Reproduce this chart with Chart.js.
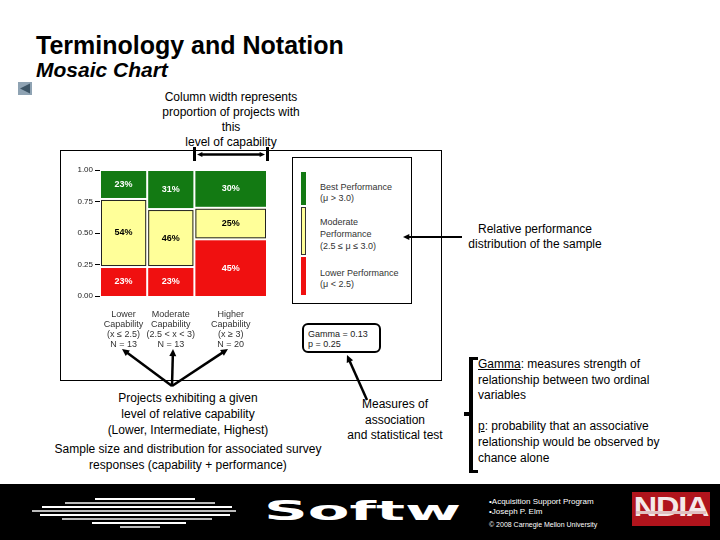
<!DOCTYPE html>
<html>
<head>
<meta charset="utf-8">
<script src="https://cdn.jsdelivr.net/npm/chart.js@4.4.0/dist/chart.umd.min.js"></script>
<style>
  body { margin:0; width:720px; height:540px; background:#fff; position:relative; overflow:hidden;
         font-family:"Liberation Sans", Arial, sans-serif; color:#000; }
  .t { position:absolute; white-space:nowrap; }
  .c { text-align:center; }
  #mosaic { position:absolute; left:60px; top:150px; }
  #deco { position:absolute; left:0; top:0; pointer-events:none; }
  .box { position:absolute; border:1px solid #000; }
  .footer { position:absolute; left:0; top:484px; width:720px; height:56px; background:#000; }
  .legbar { position:absolute; left:301px; width:5px; }
</style>
</head>
<body>
<div class="t" style="left:36px;top:33px;font-size:25px;font-weight:bold;line-height:25px">Terminology and Notation</div>
<div class="t" style="left:36px;top:59px;font-size:21px;font-weight:bold;font-style:italic;line-height:21px">Mosaic Chart</div>

<div class="t c" style="left:131px;width:200px;top:90px;font-size:12px;line-height:15px">Column width represents<br>proportion of projects with<br>this<br>level of capability</div>

<div class="box" style="left:60px;top:150px;width:380px;height:229px"></div>
<div class="box" style="left:292px;top:157px;width:118px;height:145px"></div>

<canvas id="mosaic" width="232" height="210"></canvas>

<div id="legend"></div>

<div class="t c" style="left:435px;width:200px;top:222px;font-size:12px;line-height:15px">Relative performance<br>distribution of the sample</div>

<div id="stats" class="t" style="left:308px;top:329px;font-size:9px;line-height:10px;color:#222"></div>

<div class="t c" style="left:38px;width:300px;top:390px;font-size:12px;line-height:16px">Projects exhibiting a given<br>level of relative capability<br>(Lower, Intermediate, Highest)</div>
<div class="t c" style="left:18px;width:340px;top:441px;font-size:12px;line-height:16px">Sample size and distribution for associated survey<br>responses (capability + performance)</div>

<div class="t c" style="left:325px;width:140px;top:397px;font-size:12px;line-height:15.5px">Measures of<br>association<br>and statistical test</div>

<div class="t" style="left:478px;top:357px;font-size:12px;line-height:15.6px"><u>Gamma</u>: measures strength of<br>relationship between two ordinal<br>variables<br><br><u>p</u>: probability that an associative<br>relationship would be observed by<br>chance alone</div>

<div class="footer"></div>
<div class="t" style="left:264px;top:497px;font-size:27px;font-weight:900;color:#fff;line-height:28px;font-family:'DejaVu Sans';transform:scaleX(2.25);transform-origin:left top">Softw</div>
<div class="t" style="left:489px;top:497px;font-size:8px;line-height:10px;color:#fff">•Acquisition Support Program<br>•Joseph P. Elm</div>
<div class="t" style="left:489px;top:521px;font-size:7px;line-height:8px;color:#fff">© 2008 Carnegie Mellon University</div>
<div class="t" style="left:632px;top:492px;width:78px;height:34px;background:#b0141c;"></div>
<div class="t c" style="left:632px;top:492px;width:78px;font-size:27px;font-weight:bold;line-height:30px;color:#f4e8e8;letter-spacing:-1px;transform:scaleX(1.2);transform-origin:center top">NDIA</div>
<div class="t" style="left:636px;top:511px;width:70px;height:3px;background:#e0c0c0"></div>

<canvas id="deco" width="720" height="540"></canvas>

<script>
// capability groups (columns)
const capNames = ['Lower', 'Moderate', 'Higher'];
const capRanges = ['(x \u2264 2.5)', '(2.5 < x < 3)', '(x \u2265 3)'];
const capN = [13, 13, 20];

// performance shares in % per column, stacked bottom to top
const lowerPct = [23, 23, 45];
const moderatePct = [54, 46, 25];
const bestPct = [23, 31, 30];

const perfNames = ['Lower Performance', 'Moderate Performance', 'Best Performance'];
const perfRanges = ['(\u03bc < 2.5)', '(2.5 \u2264 \u03bc \u2264 3.0)', '(\u03bc > 3.0)'];
const perfColors = ['#f01010', '#ffff99', '#137a13'];
const perfTextColors = ['#fff', '#000', '#fff'];

const gamma = 0.13;
const pValue = 0.25;

const yTicks = [0, 0.25, 0.5, 0.75, 1];

const segments = [lowerPct, moderatePct, bestPct];
const totalN = capN.reduce((a, b) => a + b, 0);
const centers = [];
let acc = 0;
capN.forEach(n => { centers.push(acc + n / 2); acc += n; });

const capLabels = capNames.map((name, i) => [name, 'Capability', capRanges[i], 'N = ' + capN[i]]);

Chart.defaults.font.family = '"Liberation Sans", Arial, sans-serif';

const mosaicPlugin = {
  id: 'mosaic',
  afterDatasetsDraw(chart) {
    const ctx = chart.ctx;
    const x = chart.scales.x, y = chart.scales.y;
    let x0 = 0;
    capN.forEach((n, i) => {
      const left = x.getPixelForValue(x0) + 1;
      const right = x.getPixelForValue(x0 + n) - 1;
      let y0 = 0;
      segments.forEach((seg, k) => {
        const v = seg[i] / 100;
        const bottom = y.getPixelForValue(y0) - (y0 > 0 ? 1 : 0);
        const top = y.getPixelForValue(Math.min(1, y0 + v)) + 1;
        ctx.save();
        ctx.fillStyle = perfColors[k];
        ctx.fillRect(left, top, right - left, bottom - top);
        if (k == 1) {
          ctx.strokeStyle = '#222';
          ctx.lineWidth = 1;
          ctx.strokeRect(left + 0.5, top + 0.5, right - left - 1, bottom - top - 1);
        }
        ctx.fillStyle = perfTextColors[k];
        ctx.font = 'bold 9px "Liberation Sans", Arial, sans-serif';
        ctx.textAlign = 'center';
        ctx.textBaseline = 'middle';
        ctx.fillText(seg[i] + '%', (left + right) / 2, (top + bottom) / 2);
        ctx.restore();
        y0 += v;
      });
      x0 += n;
    });
  }
};

new Chart(document.getElementById('mosaic'), {
  type: 'scatter',
  data: {
    datasets: perfNames.map((name, k) => ({ label: name, data: [], backgroundColor: perfColors[k] }))
  },
  options: {
    responsive: false,
    animation: false,
    layout: { padding: { top: 20, right: 25, left: 0, bottom: 0 } },
    plugins: { legend: { display: false }, tooltip: { enabled: false } },
    scales: {
      x: {
        type: 'linear', min: 0, max: totalN,
        grid: { display: false, drawTicks: false },
        border: { display: false },
        afterBuildTicks: s => { s.ticks = centers.map(v => ({ value: v })); },
        afterFit: s => { s.height = 64; },
        ticks: {
          autoSkip: false, maxRotation: 0, padding: 14, color: '#333',
          font: { size: 9, lineHeight: 1.1 },
          callback: (v, i) => capLabels[i]
        }
      },
      y: {
        type: 'linear', min: 0, max: 1,
        afterBuildTicks: s => { s.ticks = yTicks.map(v => ({ value: v })); },
        afterFit: s => { s.width = 40; },
        grid: { drawOnChartArea: false, tickLength: 5, color: '#000' },
        border: { display: false },
        ticks: { padding: 2, color: '#222', font: { size: 8 }, callback: v => v.toFixed(2) }
      }
    }
  },
  plugins: [mosaicPlugin]
});

// legend: vertical colour bars with labels, top to bottom = best to lower
const legend = document.getElementById('legend');
const barSpans = [[257, 295], [207, 255], [172, 205]];
const textTops = [[268, 11], [216, 12], [182, 11]];
const textLines = [
  [perfNames[0], perfRanges[0]],
  ['Moderate', 'Performance', perfRanges[1]],
  [perfNames[2], perfRanges[2]]
];
perfNames.forEach((name, k) => {
  const bar = document.createElement('div');
  bar.className = 'legbar';
  bar.style.top = barSpans[k][0] + 'px';
  bar.style.height = (barSpans[k][1] - barSpans[k][0]) + 'px';
  bar.style.background = perfColors[k];
  if (k == 1) { bar.style.boxShadow = 'inset 0 0 0 1px #333'; }
  legend.appendChild(bar);
  const txt = document.createElement('div');
  txt.className = 't';
  txt.style.left = '320px';
  txt.style.top = textTops[k][0] + 'px';
  txt.style.fontSize = '9px';
  txt.style.lineHeight = textTops[k][1] + 'px';
  txt.style.color = '#333';
  txt.innerHTML = textLines[k].join('<br>');
  legend.appendChild(txt);
});

document.getElementById('stats').innerHTML = 'Gamma = ' + gamma.toFixed(2) + '<br>p = ' + pValue.toFixed(2);

// annotations: arrows, brackets, boxes, footer graphic
const dc = document.getElementById('deco').getContext('2d');

function arrow(x1, y1, x2, y2, w, head) {
  const a = Math.atan2(y2 - y1, x2 - x1);
  dc.strokeStyle = '#000';
  dc.fillStyle = '#000';
  dc.lineWidth = w;
  dc.beginPath();
  dc.moveTo(x1, y1);
  dc.lineTo(x2 - Math.cos(a) * head * 0.6, y2 - Math.sin(a) * head * 0.6);
  dc.stroke();
  dc.beginPath();
  dc.moveTo(x2, y2);
  dc.lineTo(x2 - head * Math.cos(a - 0.45), y2 - head * Math.sin(a - 0.45));
  dc.lineTo(x2 - head * Math.cos(a + 0.45), y2 - head * Math.sin(a + 0.45));
  dc.closePath();
  dc.fill();
}

// column width bracket above the chart
dc.fillStyle = '#000';
dc.fillRect(193, 147, 3, 14);
dc.fillRect(266, 147, 3, 14);
arrow(230, 154.5, 197, 154.5, 2.5, 6);
arrow(230, 154.5, 265, 154.5, 2.5, 6);

// pointer to legend
arrow(462, 237, 403, 237, 2, 7);

// pointers to capability labels
arrow(172, 386, 122, 349, 2.5, 8);
arrow(172, 386, 173, 349, 2.5, 8);
arrow(172, 386, 228, 349, 2.5, 8);

// gamma box
dc.lineWidth = 2;
dc.strokeStyle = '#000';
dc.beginPath();
dc.roundRect(303, 324, 77, 28, 5);
dc.stroke();
arrow(367, 400, 347, 355, 2.5, 8);

// big bracket for definitions
dc.fillRect(469, 357, 4, 116);
dc.fillRect(469, 357, 9, 3);
dc.fillRect(469, 470, 9, 3);
dc.fillRect(464, 412, 7, 4);

// back icon
dc.fillStyle = '#8fa3b3';
dc.fillRect(18, 82, 14, 13);
dc.fillStyle = '#3d5566';
dc.beginPath();
dc.moveTo(20, 88.5); dc.lineTo(30, 83.5); dc.lineTo(30, 93.5); dc.closePath();
dc.fill();

// footer stripes graphic
const stripes = [[498, 95, 195], [502, 65, 215], [506, 42, 232], [510, 32, 236], [514, 40, 230], [518, 62, 212], [522, 92, 186], [526, 120, 160]];
stripes.forEach((s, i) => {
  dc.fillStyle = i % 2 ? '#bbbbbb' : '#ffffff';
  dc.fillRect(s[1], s[0], s[2] - s[1], 2);
});
</script>
</body>
</html>
